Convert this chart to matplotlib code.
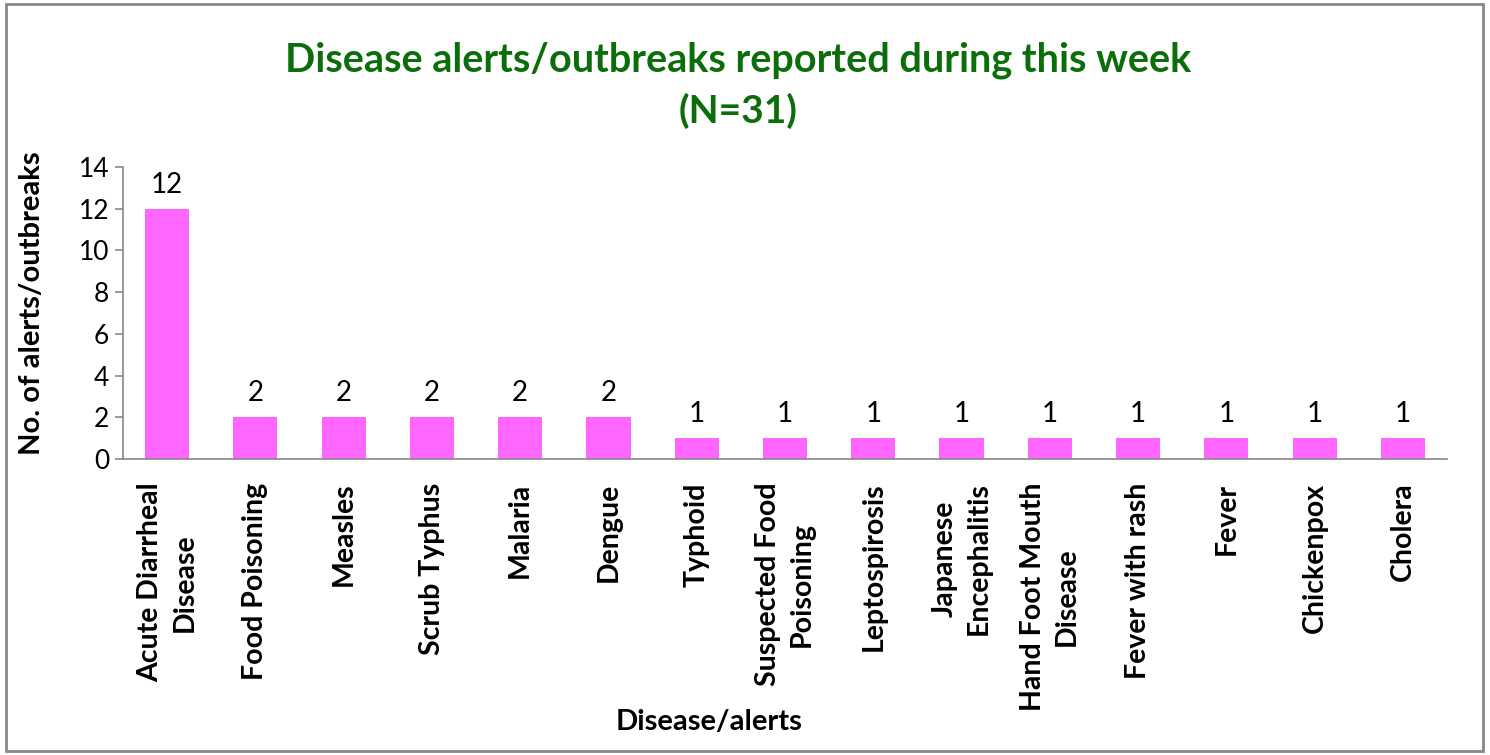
import matplotlib
matplotlib.use("Agg")
import matplotlib.pyplot as plt
from matplotlib.patches import Rectangle

categories = ["Acute Diarrheal\nDisease", "Food Poisoning", "Measles", "Scrub Typhus",
              "Malaria", "Dengue", "Typhoid", "Suspected Food\nPoisoning", "Leptospirosis",
              "Japanese\nEncephalitis", "Hand Foot Mouth\nDisease", "Fever with rash",
              "Fever", "Chickenpox", "Cholera"]
values = [12, 2, 2, 2, 2, 2, 1, 1, 1, 1, 1, 1, 1, 1, 1]
yticks = [0, 2, 4, 6, 8, 10, 12, 14]

plt.rcParams['font.family'] = ['Lato', 'DejaVu Sans']

fig = plt.figure(figsize=(14.9, 7.55), dpi=100)
ax = fig.add_axes([123/1490, 1-459/755, (1447-123)/1490, (459-167)/755])

x = list(range(len(categories)))
bars = ax.bar(x, values, width=0.5, color='#FF66FF', zorder=2)
for xi, v in zip(x, values):
    ax.annotate(str(v), (xi, v), xytext=(0, 8), textcoords='offset points',
                ha='center', va='bottom', fontsize=20, color='black')

ax.set_xlim(-0.5, len(categories) - 0.5)
ax.set_ylim(0, 14)
ax.set_yticks(yticks)
ax.set_yticklabels([str(t) for t in yticks], fontsize=19)
ax.set_xticks(x)
ax.set_xticklabels(categories, rotation=90, fontsize=20.5, fontweight='bold',
                   ha='center', va='top', multialignment='center', linespacing=1.4)
ax.tick_params(axis='x', length=0, pad=17)
ax.tick_params(axis='y', length=6, width=1.2, color='#888888', pad=4)
for s in ['top', 'right']:
    ax.spines[s].set_visible(False)
ax.spines['left'].set_color('#888888')
ax.spines['bottom'].set_color('#888888')
ax.spines['left'].set_linewidth(1.2)
ax.spines['bottom'].set_linewidth(1.2)

fig.text(32/1490, 1-303/755, 'No. of alerts/outbreaks', fontsize=21, fontweight='bold',
         rotation=90, ha='center', va='center')
fig.text(709/1490, 1-722/755, 'Disease/alerts', fontsize=21, fontweight='bold',
         ha='center', va='center')

fig.text(738/1490, 1-60/755, 'Disease alerts/outbreaks reported during this week',
         fontsize=28.5, fontweight='bold', color='#0B6E0B', ha='center', va='center')
fig.text(738/1490, 1-111/755, '(N=31)', fontsize=28, fontweight='bold',
         color='#0B6E0B', ha='center', va='center')

fig.patches.append(Rectangle((6/1490, 4/755), (1483-6)/1490, (751-4)/755,
                             transform=fig.transFigure, fill=False,
                             edgecolor='#888888', linewidth=2))

fig.savefig('out.png', dpi=100)
